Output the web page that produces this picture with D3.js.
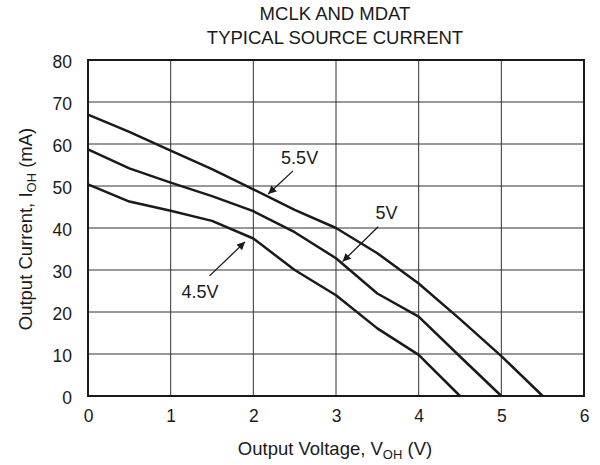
<!DOCTYPE html>
<html><head><meta charset="utf-8">
<script src="https://cdn.jsdelivr.net/npm/d3@7"></script>
<style>body{margin:0;background:#fff}svg{display:block}text{font-family:"Liberation Sans",Arial,sans-serif;fill:#1a1a1a}</style>
</head><body><svg id="c" width="600" height="465"></svg>
<script>
const titleLines = ["MCLK AND MDAT", "TYPICAL SOURCE CURRENT"];
const xTicks = [0, 1, 2, 3, 4, 5, 6];
const yTicks = [0, 10, 20, 30, 40, 50, 60, 70, 80];
const vohVolts = [0, 0.5, 1, 1.5, 2, 2.5, 3, 3.5, 4, 4.5, 5, 5.5];
const i55 = [67, 62.9, 58.4, 54, 49.2, 44.3, 40, 34, 26.8, 18.3, 9.5, 0];
const i50 = [58.7, 54.2, 50.8, 47.6, 44, 39, 32.8, 24.4, 18.9, 9.4, 0];
const i45 = [50.4, 46.3, 44.1, 41.7, 37.5, 30, 24, 16.1, 9.8, 0];
const seriesNames = ["5.5V", "5V", "4.5V"];
// annotations in data units: label position, arrow tail, arrow tip
const labelPos = [[2.56, 56.7], [3.61, 43.6], [1.355, 24.8]];
const arrowTail = [[2.48, 53.6], [3.51, 40.3], [1.47, 28.6]];
const arrowTip = [[2.18, 48.1], [3.08, 32.0], [1.9, 36.7]];

const svg = d3.select("#c");
const m = {l: 88, r: 16, t: 60, b: 69};
const W = 600 - m.l - m.r, H = 465 - m.t - m.b;
const x = d3.scaleLinear().domain([0, 6]).range([m.l, m.l + W]);
const y = d3.scaleLinear().domain([0, 80]).range([m.t + H, m.t]);

svg.append("defs").append("marker").attr("id", "ah").attr("viewBox", "0 0 10 10")
  .attr("refX", 10).attr("refY", 5).attr("markerWidth", 11).attr("markerHeight", 8)
  .attr("markerUnits", "userSpaceOnUse").attr("orient", "auto")
  .append("path").attr("d", "M0,0 L10,5 L0,10 Z").attr("fill", "#1a1a1a");

// grid
svg.append("g").selectAll("line").data(xTicks.slice(1, -1)).join("line")
  .attr("x1", d => x(d)).attr("x2", d => x(d)).attr("y1", y(0)).attr("y2", y(80))
  .attr("stroke", "#333").attr("stroke-width", 1);
svg.append("g").selectAll("line").data(yTicks.slice(1, -1)).join("line")
  .attr("y1", d => y(d)).attr("y2", d => y(d)).attr("x1", x(0)).attr("x2", x(6))
  .attr("stroke", "#333").attr("stroke-width", 1);

// axes labels via d3 axes
const xa = svg.append("g").attr("transform", `translate(0,${y(0)})`)
  .call(d3.axisBottom(x).tickValues(xTicks).tickSize(0).tickPadding(14).tickFormat(d3.format("d")));
const ya = svg.append("g").attr("transform", `translate(${x(0)},0)`)
  .call(d3.axisLeft(y).tickValues(yTicks).tickSize(0).tickPadding(16).tickFormat(d3.format("d")));
[xa, ya].forEach(a => { a.select(".domain").remove(); a.selectAll("text").attr("font-size", 17.5).attr("fill", "#1a1a1a").attr("font-family", "Liberation Sans, Arial, sans-serif"); });
ya.selectAll("text").attr("dy", "0.45em");

// frame
svg.append("rect").attr("x", x(0)).attr("y", y(80)).attr("width", x(6) - x(0)).attr("height", y(0) - y(80))
  .attr("fill", "none").attr("stroke", "#1a1a1a").attr("stroke-width", 2);

// curves
const line = d3.line().x(d => x(d[0])).y(d => y(d[1]));
[i55, i50, i45].forEach(s => {
  svg.append("path").datum(s.map((v, i) => [vohVolts[i], v])).attr("d", line)
    .attr("fill", "none").attr("stroke", "#1a1a1a").attr("stroke-width", 2.5).attr("stroke-linejoin", "round");
});

// annotations
seriesNames.forEach((n, i) => {
  svg.append("text").attr("x", x(labelPos[i][0])).attr("y", y(labelPos[i][1])).attr("dy", "0.35em")
    .attr("text-anchor", "middle").attr("font-size", 18).text(n);
  svg.append("line").attr("x1", x(arrowTail[i][0])).attr("y1", y(arrowTail[i][1]))
    .attr("x2", x(arrowTip[i][0])).attr("y2", y(arrowTip[i][1]))
    .attr("stroke", "#1a1a1a").attr("stroke-width", 1.3).attr("marker-end", "url(#ah)");
});

// title
svg.append("g").selectAll("text").data(titleLines).join("text")
  .attr("x", 335).attr("y", (d, i) => 19.5 + i * 24).attr("text-anchor", "middle").attr("font-size", 18.5).text(d => d);

// axis titles
const xt = svg.append("text").attr("x", 335).attr("y", 455).attr("text-anchor", "middle").attr("font-size", 18.5);
xt.append("tspan").text("Output Voltage, V");
xt.append("tspan").attr("font-size", 13).attr("dy", 4).text("OH");
xt.append("tspan").attr("dy", -4).text(" (V)");
const yt = svg.append("text").attr("transform", "translate(32,229) rotate(-90)").attr("text-anchor", "middle").attr("font-size", 18.5);
yt.append("tspan").text("Output Current, I");
yt.append("tspan").attr("font-size", 13).attr("dy", 4).text("OH");
yt.append("tspan").attr("dy", -4).text(" (mA)");
</script></body></html>
